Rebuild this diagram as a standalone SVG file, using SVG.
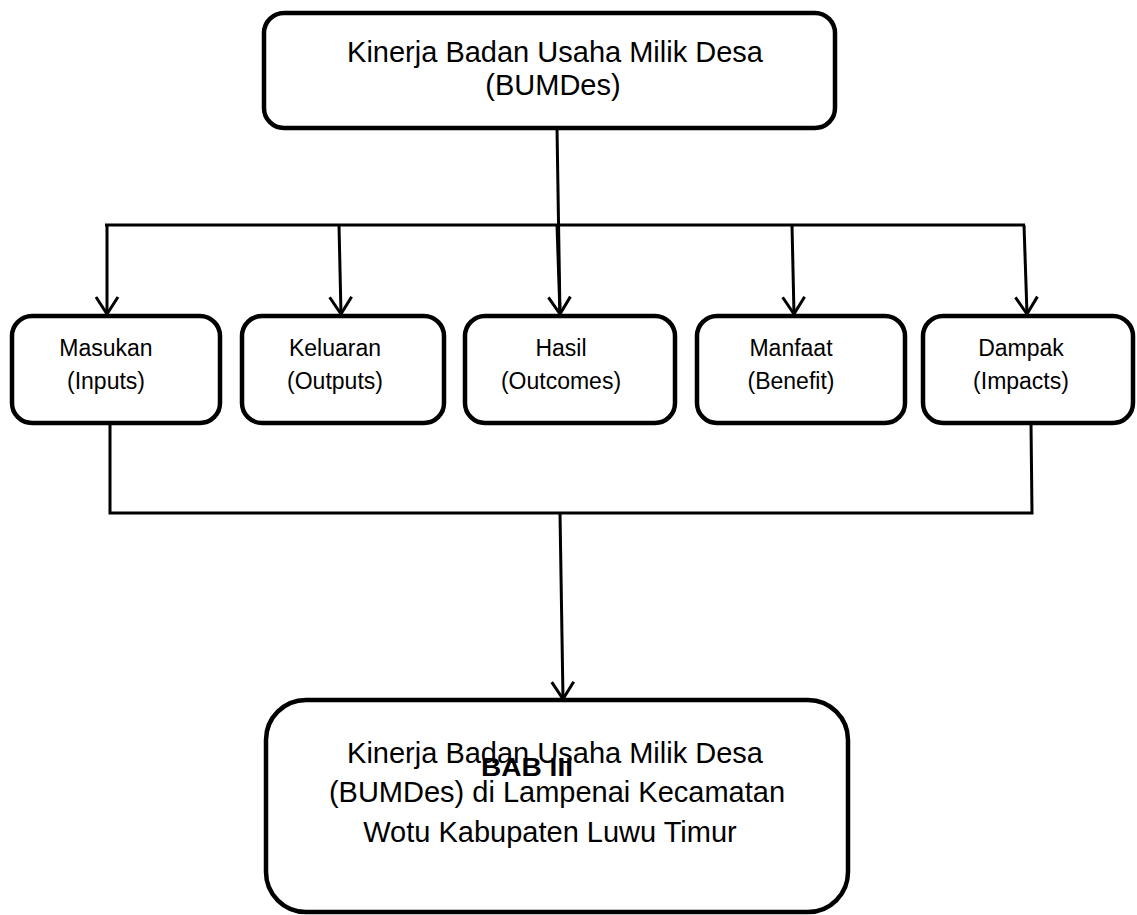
<svg xmlns="http://www.w3.org/2000/svg" width="1137" height="915" viewBox="0 0 1137 915">
<style>
.box{fill:#fff;stroke:#000;stroke-width:4.5}
.t{font-family:"Liberation Sans",Arial,sans-serif;fill:#000;text-anchor:middle}
.big{font-size:29px}
.small{font-size:23px}
.bold{font-size:25px;font-weight:bold}
.c{fill:none;stroke:#000;stroke-width:3}
.a{marker-end:url(#arr)}
</style>
<defs>
<marker id="arr" markerUnits="userSpaceOnUse" markerWidth="28" markerHeight="28" viewBox="0 0 28 28" refX="22" refY="14" orient="auto">
<path d="M5,3 L22,14 L5,25" fill="none" stroke="#000" stroke-width="3"/>
</marker>
</defs>
<rect width="1137" height="915" fill="#fff"/>
<g id="connectors">
<path class="c" d="M557,128 L560,315" />
<path class="c" d="M105,225 L1025,225"/>
<path class="c a" d="M107,225 L107,314"/>
<path class="c a" d="M339,225 L341,314"/>
<path class="c a" d="M557,225 L560,314"/>
<path class="c a" d="M792,225 L794,314"/>
<path class="c a" d="M1024,225 L1027,314"/>
<path class="c" d="M110,423 L110,513 L1032,513 L1031,423"/>
<path class="c a" d="M560,513 L563,699"/>
</g>
<g id="top">
<rect class="box" x="264" y="13" width="571" height="115" rx="20"/>
<text class="t big" x="555" y="62">Kinerja Badan Usaha Milik Desa</text>
<text class="t big" x="553" y="95">(BUMDes)</text>
</g>
<g id="masukan">
<rect class="box" x="12" y="316" width="208" height="107" rx="20"/>
<text class="t small" x="106" y="356">Masukan</text>
<text class="t small" x="106" y="389">(Inputs)</text>
</g>
<g id="keluaran">
<rect class="box" x="242" y="316" width="202" height="107" rx="20"/>
<text class="t small" x="335" y="356">Keluaran</text>
<text class="t small" x="335" y="389">(Outputs)</text>
</g>
<g id="hasil">
<rect class="box" x="465" y="316" width="210" height="107" rx="20"/>
<text class="t small" x="561" y="356">Hasil</text>
<text class="t small" x="561" y="389">(Outcomes)</text>
</g>
<g id="manfaat">
<rect class="box" x="697" y="316" width="208" height="107" rx="20"/>
<text class="t small" x="791" y="356">Manfaat</text>
<text class="t small" x="791" y="389">(Benefit)</text>
</g>
<g id="dampak">
<rect class="box" x="923" y="316" width="210" height="107" rx="20"/>
<text class="t small" x="1021" y="356">Dampak</text>
<text class="t small" x="1021" y="389">(Impacts)</text>
</g>
<g id="bottom">
<rect class="box" x="266" y="700" width="582" height="212" rx="40"/>
<text class="t big" x="555" y="763">Kinerja Badan Usaha Milik Desa</text>
<text class="t big" x="557" y="802">(BUMDes) di Lampenai Kecamatan</text>
<text class="t big" x="550" y="842">Wotu Kabupaten Luwu Timur</text>
<text class="t bold" x="527" y="776" textLength="92" lengthAdjust="spacingAndGlyphs">BAB III</text>
</g>
</svg>
